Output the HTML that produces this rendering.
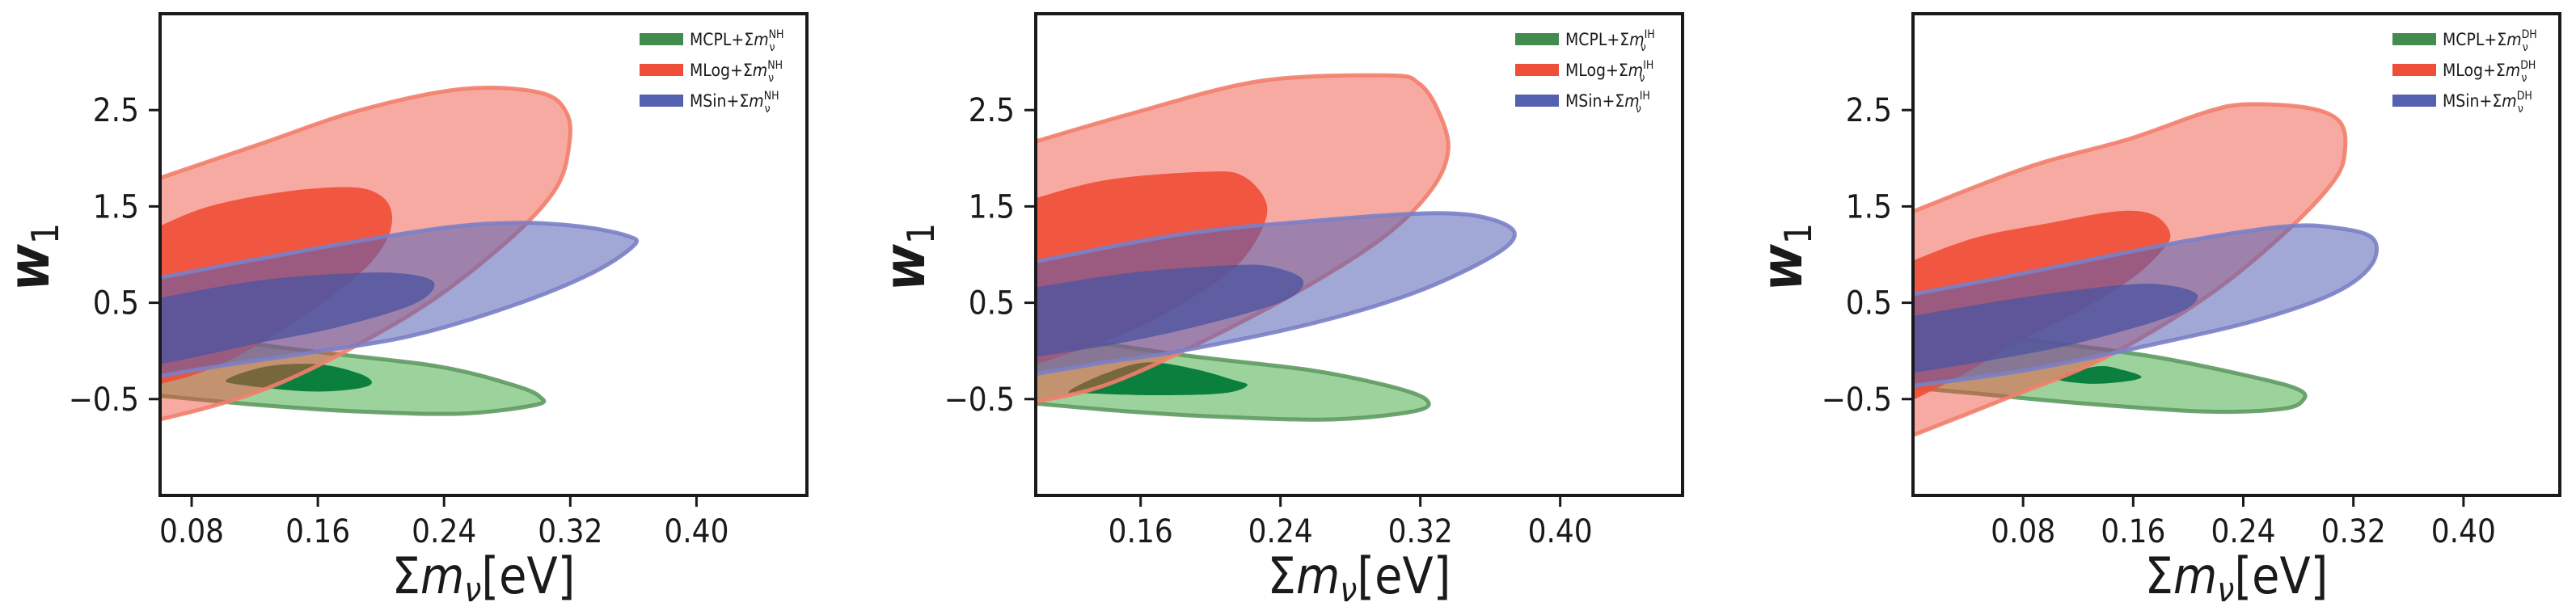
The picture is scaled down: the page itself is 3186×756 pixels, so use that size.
<!DOCTYPE html>
<html><head><meta charset="utf-8">
<style>
html,body{margin:0;padding:0;background:#fff;}
svg{display:block;}
text{font-family:"DejaVu Sans Condensed","DejaVu Sans","Liberation Sans",sans-serif;fill:#1a1a1a;}
</style></head>
<body>
<svg id="fig" width="3186" height="756" viewBox="0 0 3186 756" xmlns="http://www.w3.org/2000/svg"></svg>
<script>
// ---- data ----
const panelLabels = ["NH","IH","DH"];
const xlims = [[0.06,0.47],[0.10,0.47],[0.0,0.47]];
const ylim = [-1.5,3.5];
const yTicks = [-0.5,0.5,1.5,2.5];
const yTickLabels = ["\u22120.5","0.5","1.5","2.5"];
const xTicks = [0.08,0.16,0.24,0.32,0.40];
const xTickLabels = ["0.08","0.16","0.24","0.32","0.40"];
const seriesNames = ["MCPL","MLog","MSin"];

// contours per panel: [x,y] in data units (open ones run from left edge round to left edge)
const greenOuter = [
 [[0.05,0.22],[0.154,0.0],[0.236,-0.16],[0.285,-0.36],[0.301,-0.48],[0.298,-0.56],[0.252,-0.65],[0.187,-0.63],[0.122,-0.56],[0.05,-0.45]],
 [[0.09,0.21],[0.183,-0.04],[0.257,-0.20],[0.301,-0.36],[0.323,-0.50],[0.318,-0.62],[0.272,-0.71],[0.213,-0.69],[0.154,-0.63],[0.09,-0.53]],
 [[-0.01,0.29],[0.082,0.12],[0.175,-0.06],[0.250,-0.28],[0.280,-0.40],[0.284,-0.50],[0.269,-0.60],[0.213,-0.63],[0.119,-0.54],[0.044,-0.44],[-0.01,-0.37]]
];
const greenInner = [
 [[0.102,-0.30],[0.128,-0.16],[0.161,-0.14],[0.187,-0.24],[0.194,-0.34],[0.181,-0.40],[0.154,-0.42],[0.115,-0.36]],
 [[0.119,-0.42],[0.139,-0.24],[0.163,-0.12],[0.189,-0.18],[0.213,-0.30],[0.221,-0.36],[0.207,-0.44],[0.169,-0.46],[0.130,-0.44]],
 [[0.104,-0.28],[0.134,-0.16],[0.153,-0.20],[0.166,-0.27],[0.153,-0.32],[0.127,-0.34]]
];
const redOuter = [
 [[0.05,1.74],[0.122,2.14],[0.187,2.50],[0.252,2.72],[0.301,2.68],[0.318,2.46],[0.319,2.10],[0.311,1.69],[0.285,1.21],[0.236,0.565],[0.187,0.08],[0.138,-0.32],[0.096,-0.56],[0.05,-0.75]],
 [[0.09,2.12],[0.154,2.46],[0.228,2.80],[0.301,2.86],[0.319,2.78],[0.330,2.50],[0.336,2.10],[0.327,1.69],[0.301,1.21],[0.257,0.69],[0.198,0.12],[0.139,-0.36],[0.09,-0.56]],
 [[-0.01,1.39],[0.082,1.90],[0.157,2.20],[0.213,2.48],[0.243,2.56],[0.288,2.52],[0.310,2.38],[0.314,2.10],[0.306,1.77],[0.269,1.21],[0.213,0.56],[0.138,-0.08],[0.063,-0.52],[-0.01,-0.93]]
];
const redInner = [
 [[0.05,1.22],[0.089,1.49],[0.138,1.65],[0.181,1.70],[0.200,1.61],[0.207,1.41],[0.203,1.13],[0.187,0.81],[0.154,0.40],[0.115,0.0],[0.083,-0.24],[0.05,-0.38]],
 [[0.09,1.53],[0.139,1.77],[0.198,1.86],[0.219,1.81],[0.232,1.53],[0.228,1.21],[0.213,0.85],[0.183,0.48],[0.148,0.16],[0.09,-0.20]],
 [[-0.01,0.88],[0.044,1.17],[0.10,1.33],[0.149,1.45],[0.175,1.41],[0.187,1.21],[0.179,1.01],[0.157,0.73],[0.119,0.40],[0.074,0.08],[0.037,-0.24],[-0.01,-0.58]]
];
const blueOuter = [
 [[0.05,0.73],[0.154,1.05],[0.236,1.27],[0.285,1.33],[0.327,1.29],[0.357,1.19],[0.360,1.09],[0.334,0.81],[0.285,0.48],[0.220,0.16],[0.154,-0.02],[0.096,-0.16],[0.05,-0.29]],
 [[0.09,0.89],[0.183,1.21],[0.272,1.37],[0.330,1.43],[0.360,1.37],[0.374,1.21],[0.360,0.97],[0.316,0.60],[0.257,0.28],[0.183,0.0],[0.139,-0.12],[0.09,-0.27]],
 [[-0.01,0.56],[0.082,0.81],[0.194,1.13],[0.269,1.29],[0.306,1.28],[0.334,1.17],[0.333,0.89],[0.306,0.60],[0.250,0.32],[0.175,0.07],[0.082,-0.20],[-0.01,-0.38]]
];
const blueInner = [
 [[0.05,0.52],[0.122,0.73],[0.187,0.81],[0.220,0.79],[0.234,0.69],[0.220,0.48],[0.171,0.24],[0.122,0.08],[0.089,-0.04],[0.05,-0.17]],
 [[0.09,0.63],[0.154,0.81],[0.213,0.89],[0.236,0.87],[0.253,0.73],[0.242,0.52],[0.198,0.28],[0.148,0.08],[0.09,-0.09]],
 [[-0.01,0.34],[0.082,0.56],[0.157,0.69],[0.190,0.67],[0.207,0.56],[0.187,0.36],[0.119,0.08],[0.063,-0.08],[-0.01,-0.25]]
];

// ---- layout ----
const axLeft = [198,1281,2366];
const axW = 800, axTop = 17, axBot = 613;
const NS = "http://www.w3.org/2000/svg";
const svg = document.getElementById('fig');
function mk(tag, attrs, parent){
  const e = document.createElementNS(NS, tag);
  for (const k in attrs) e.setAttribute(k, attrs[k]);
  (parent||svg).appendChild(e);
  return e;
}
function seg(p0,p1,p2,p3){
  const c1=[p1[0]+(p2[0]-p0[0])/6, p1[1]+(p2[1]-p0[1])/6];
  const c2=[p2[0]-(p3[0]-p1[0])/6, p2[1]-(p3[1]-p1[1])/6];
  return " C"+c1[0].toFixed(1)+","+c1[1].toFixed(1)+" "+c2[0].toFixed(1)+","+c2[1].toFixed(1)+" "+p2[0].toFixed(1)+","+p2[1].toFixed(1);
}
function closedPath(pts){
  const n = pts.length; let d = "M"+pts[0][0]+","+pts[0][1];
  for (let i=0;i<n;i++) d += seg(pts[(i-1+n)%n], pts[i], pts[(i+1)%n], pts[(i+2)%n]);
  return d+"Z";
}
function openPath(pts, farX){
  const n = pts.length;
  const ext = [pts[0]].concat(pts).concat([pts[n-1]]);
  let d = "M"+pts[0][0].toFixed(1)+","+pts[0][1].toFixed(1);
  for (let i=1;i<n;i++) d += seg(ext[i-1], ext[i], ext[i+1], ext[i+2]);
  d += " L"+farX+","+pts[n-1][1].toFixed(1)+" L"+farX+","+pts[0][1].toFixed(1)+"Z";
  return d;
}

const styles = [
  {set:greenOuter, fill:"#2ca02c", op:0.47, stroke:"#5f9a63", sw:5, name:"mcpl-outer-contour"},
  {set:greenInner, fill:"#0b7f3e", op:1, stroke:"none", sw:0, name:"mcpl-inner-contour"},
  {set:redOuter, fill:"#ee4d3c", op:0.48, stroke:"#f27e6b", sw:5, name:"mlog-outer-contour"},
  {set:redInner, fill:"#ef4f37", op:0.92, stroke:"none", sw:0, name:"mlog-inner-contour"},
  {set:blueOuter, fill:"#5560b5", op:0.55, stroke:"#7b80c6", sw:5, name:"msin-outer-contour"},
  {set:blueInner, fill:"#4d549f", op:0.78, stroke:"none", sw:0, name:"msin-inner-contour"}
];
const legColors = ["#428c50","#ef4f38","#5461b0"];

for (let p=0;p<3;p++){
  const L = axLeft[p];
  const xs = v => L + (v - xlims[p][0])/(xlims[p][1]-xlims[p][0])*axW;
  const ys = v => axBot - (v - ylim[0])/(ylim[1]-ylim[0])*(axBot-axTop);
  const g = mk('g',{});
  
  
  const cp = mk('clipPath',{id:'clip'+p},g);
  mk('rect',{x:L,y:axTop,width:axW,height:axBot-axTop},cp);
  const cg = mk('g',{'clip-path':'url(#clip'+p+')'},g);
  styles.forEach(s=>{
    const raw = s.set[p];
    const pts = raw.map(q=>[xs(q[0]), ys(q[1])]);
    const isOpen = raw[0][0] < xlims[p][0];
    const d = isOpen ? openPath(pts, L-60) : closedPath(pts);
    const el = mk('path',{d:d, fill:s.fill, 'fill-opacity':s.op, stroke:s.stroke, 'stroke-width':s.sw, 'stroke-opacity':0.9, 'stroke-linejoin':'round'},cg);
    
    
  });
  const fr = mk('rect',{x:L,y:axTop,width:axW,height:axBot-axTop,fill:'none',stroke:'#1a1a1a','stroke-width':4},g);
  
  
  yTicks.forEach((t,i)=>{
    const y = ys(t);
    mk('line',{x1:L-14,x2:L,y1:y,y2:y,stroke:'#1a1a1a','stroke-width':3},g);
    const tx = mk('text',{x:L-26,y:y+14,'font-size':40,'text-anchor':'end'},g);
    tx.textContent = yTickLabels[i];
    
    
  });
  xTicks.forEach((t,i)=>{
    if (t < xlims[p][0]+0.01) return;
    const x = xs(t);
    mk('line',{x1:x,x2:x,y1:axBot,y2:axBot+14,stroke:'#1a1a1a','stroke-width':3},g);
    const tx = mk('text',{x:x,y:671,'font-size':40,'text-anchor':'middle'},g);
    tx.textContent = xTickLabels[i];
    
    
  });
  const xt = mk('text',{x:L+400,y:734,'font-size':62,'text-anchor':'middle'},g);
  xt.innerHTML = 'Σ<tspan font-style="italic">m</tspan><tspan font-style="italic" font-size="42" dy="10">ν</tspan><tspan dy="-10">[eV]</tspan>';
  
  
  const yt = mk('text',{x:0,y:0,'font-size':70,'text-anchor':'middle',transform:'translate('+(L-138)+',318) rotate(-90)'},g);
  yt.innerHTML = '<tspan font-style="italic" font-weight="bold">w</tspan><tspan font-size="46" dy="12">1</tspan>';
  
  
  const lg = mk('g',{},g);
  
  
  seriesNames.forEach((n,i)=>{
    const y = 41 + i*38;
    const ex = L + 593;
    const r = mk('rect',{x:ex,y:y,width:54,height:15,fill:legColors[i]},lg);
    
    
    const t = mk('text',{x:ex+62,y:y+15,'font-size':21},lg);
    t.innerHTML = n+'+Σ<tspan font-style="italic">m</tspan><tspan font-size="14" dy="-9">'+panelLabels[p]+'</tspan><tspan font-size="14" dx="-'+(panelLabels[p].length*9)+'" dy="16">ν</tspan>';
    
    
  });
}
</script>
</body></html>
